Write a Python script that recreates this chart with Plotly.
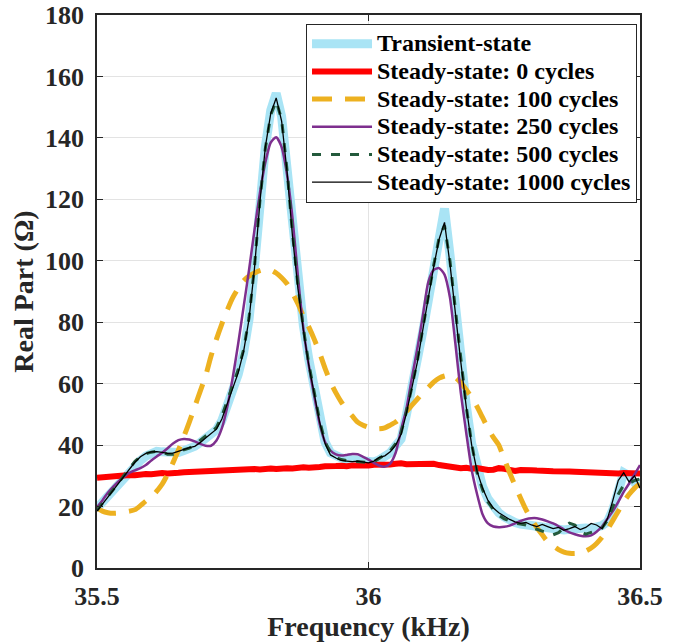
import plotly.graph_objects as go

# Frequency sweep (kHz), 0.01 kHz step
freq = [round(35.5 + 0.01 * i, 2) for i in range(101)]

# Real part of impedance (Ohm) for each simulation case
transient = [
    19.5, 21.5, 23.5, 25.5, 27.5, 29.8, 31.5, 33.3, 35.0, 36.4,
    37.5, 38.0, 37.8, 37.5, 37.4, 37.6, 38.2, 38.8, 39.6, 40.8,
    42.0, 43.5, 45.0, 48.0, 53.0, 57.0, 63.0, 70.0, 81.0, 98.0,
    120.0, 137.0, 149.0, 154.5, 147.0, 131.0, 109.0, 93.0, 79.0, 68.0,
    58.0, 49.0, 41.0, 37.5, 36.4, 35.8, 35.4, 35.2, 35.0, 34.8,
    34.6, 34.5, 35.2, 36.0, 37.5, 39.8, 42.0, 50.0, 58.0, 66.0,
    77.0, 87.0, 98.0, 108.0, 117.0, 102.0, 84.0, 68.0, 53.0, 40.5,
    32.0, 26.5, 22.5, 19.8, 18.0, 16.6, 15.5, 14.8, 14.3, 14.0,
    13.6, 13.2, 12.9, 12.7, 12.6, 12.4, 12.4, 12.6, 12.9, 13.0,
    13.0, 12.9, 13.0, 13.8, 15.0, 19.0, 25.0, 31.0, 30.0, 27.8,
    27.6,
]

steady_0 = [
    29.4, 29.6, 29.7, 29.9, 29.9, 30.1, 30.3, 30.2, 30.5, 30.6,
    30.5, 30.8, 30.9, 30.8, 31.1, 31.0, 31.2, 31.3, 31.2, 31.5,
    31.6, 31.4, 31.7, 31.8, 31.7, 31.9, 32.0, 31.9, 32.1, 32.2,
    32.1, 32.3, 32.4, 32.2, 32.6, 32.5, 32.4, 32.7, 32.8, 32.6,
    33.0, 32.9, 33.1, 33.0, 33.2, 33.3, 33.1, 33.4, 33.3, 33.5,
    33.4, 33.6, 33.5, 33.8, 33.7, 33.9, 34.1, 33.8, 33.9, 34.0,
    33.8, 33.9, 33.9, 33.5, 33.2, 33.0, 32.7, 32.5, 32.6, 32.3,
    32.5, 32.1, 31.9, 32.0, 32.5, 32.3, 32.0, 31.6, 31.9, 32.0,
    31.8, 31.7, 31.8, 31.6, 31.5, 31.6, 31.4, 31.4, 31.3, 31.2,
    31.3, 31.1, 31.0, 30.9, 31.1, 31.0, 30.8, 30.9, 30.8, 30.7,
    30.8,
]

steady_100 = [
    19.5, 18.5, 18.0, 17.8, 17.9, 18.2, 18.5, 19.0, 20.3, 21.8,
    23.0, 25.0, 27.3, 30.5, 34.3, 38.4, 42.8, 47.5, 52.5, 57.5,
    62.5, 69.0, 74.5, 79.5, 84.0, 88.0, 91.0, 93.5, 95.0, 96.0,
    96.8, 97.2, 97.0, 96.0, 94.5, 92.5, 89.5, 86.0, 82.0, 78.5,
    74.5, 70.0, 65.0, 60.5, 57.0, 54.0, 51.5, 49.5, 47.5, 46.5,
    45.8, 45.4, 45.3, 45.6, 46.5, 47.5, 49.0, 51.0, 53.0, 55.0,
    57.0, 58.7, 60.5, 61.8, 62.5, 62.8, 62.0, 60.3, 58.0, 55.5,
    52.5, 49.0, 45.5, 42.5, 40.0, 35.5, 31.0, 26.8, 22.8, 19.0,
    15.8, 13.2, 10.8, 8.5, 7.2, 6.0, 5.2, 4.8, 4.7, 5.0,
    5.5, 6.5, 8.0, 10.0, 12.5, 15.5, 18.5, 21.5, 24.0, 26.0,
    27.6,
]

steady_250 = [
    19.8, 22.0, 24.5, 26.5, 28.3, 29.7, 31.0, 31.8, 32.5, 33.5,
    35.0, 36.3, 37.5, 39.0, 40.5, 41.6, 42.0, 41.8, 41.2, 40.4,
    39.8, 39.8, 41.5, 45.5, 52.5, 62.0, 73.0, 85.0, 97.0, 110.0,
    122.0, 132.0, 138.5, 140.2, 137.0, 128.0, 114.0, 95.0, 78.0, 66.0,
    56.0, 47.0, 41.0, 38.2, 37.0, 36.6, 36.8, 37.1, 37.0, 36.2,
    35.3, 34.2, 33.3, 33.0, 34.0, 37.5, 45.0, 52.0, 62.0, 71.5,
    82.0, 93.0, 97.0, 97.6, 95.5, 88.0, 73.0, 57.0, 44.0, 32.0,
    24.0, 17.5, 14.5, 13.5, 13.3, 13.4, 13.8, 14.5, 15.3, 15.9,
    16.2, 16.2, 15.8, 15.2, 14.5, 13.6, 12.5, 11.6, 11.0, 10.5,
    10.3, 10.6, 11.8, 13.5, 16.0, 18.5, 21.5, 24.8, 27.5, 30.5,
    33.5,
]

steady_500 = [
    18.8, 21.0, 23.2, 25.6, 27.8, 30.2, 32.5, 34.7, 36.3, 37.2,
    37.7, 38.0, 37.8, 37.0, 37.0, 37.8, 38.5, 39.0, 40.0, 41.5,
    43.0, 44.0, 45.8, 49.5, 54.5, 59.0, 64.5, 71.0, 81.5, 98.0,
    119.5, 136.5, 147.5, 152.0, 146.0, 129.5, 109.0, 92.0, 78.0, 66.5,
    57.0, 48.0, 41.0, 37.5, 36.0, 35.3, 35.0, 34.8, 34.6, 34.5,
    34.3, 34.6, 35.6, 36.8, 38.2, 40.5, 44.0, 51.0, 59.0, 67.5,
    78.0, 88.5, 98.5, 107.5, 111.5, 100.0, 83.5, 67.5, 52.5, 40.5,
    31.0, 25.5, 21.5, 19.0, 17.2, 16.0, 15.2, 14.6, 14.3, 14.0,
    13.2, 12.6, 12.0, 11.2, 10.8, 11.5, 13.2, 14.6, 14.0, 12.0,
    11.0, 11.5, 12.2, 13.0, 15.5, 20.0, 24.0, 27.0, 27.5, 28.5,
    29.0,
]

steady_1000 = [
    18.5, 20.8, 23.0, 25.3, 27.6, 30.0, 32.2, 34.5, 36.2, 37.3,
    37.8, 37.9, 37.6, 37.3, 37.4, 38.0, 38.8, 39.2, 39.6, 40.8,
    42.3, 43.8, 45.2, 48.5, 53.5, 58.0, 63.5, 70.5, 81.0, 97.5,
    119.0, 137.0, 148.0, 153.0, 145.5, 129.0, 108.0, 91.0, 77.5, 66.0,
    56.5, 47.5, 40.5, 36.8, 35.8, 35.0, 34.8, 34.6, 34.8, 34.5,
    34.2, 34.8, 36.0, 36.5, 37.8, 40.0, 43.5, 50.5, 58.5, 67.0,
    77.5, 88.0, 98.0, 107.0, 112.5, 99.0, 82.5, 67.0, 52.5, 40.0,
    31.5, 26.0, 22.0, 19.5, 18.0, 16.8, 15.8, 15.0, 14.5, 14.8,
    14.0, 13.5, 14.2, 13.5, 12.8, 13.2, 12.3, 12.8, 13.5, 12.5,
    13.2, 14.5, 14.0, 12.8, 16.0, 22.0, 28.5, 31.0, 28.0, 30.0,
    26.0,
]

series_names = [
    "Transient-state",
    "Steady-state: 0 cycles",
    "Steady-state: 100 cycles",
    "Steady-state: 250 cycles",
    "Steady-state: 500 cycles",
    "Steady-state: 1000 cycles",
]

x_ticks = [35.5, 36, 36.5]
x_tick_labels = ["35.5", "36", "36.5"]
y_ticks = [0, 20, 40, 60, 80, 100, 120, 140, 160, 180]

FONT = "Liberation Serif, Times New Roman, serif"
INK = "#262626"

styles = [
    dict(color="#A9E4F5", width=9),
    dict(color="#FF0000", width=6),
    dict(color="#EDB120", width=5, dash="20px,13px"),
    dict(color="#7E2F8E", width=2.5),
    dict(color="#235A3C", width=3, dash="9px,10px"),
    dict(color="#000000", width=1.3),
]
shapes_ = ["linear", "linear", "spline", "spline", "linear", "linear"]
values = [transient, steady_0, steady_100, steady_250, steady_500, steady_1000]

fig = go.Figure()
for name, ys, st, shp in zip(series_names, values, styles, shapes_):
    line = dict(st)
    line["shape"] = shp
    if shp == "spline":
        line["smoothing"] = 0.6
    fig.add_trace(go.Scatter(
        x=freq, y=ys, mode="lines", line=line,
        name=f'<span style="font-size:24px">{name}</span>',
    ))

axis_common = dict(
    automargin=False,
    showline=True, linecolor=INK, linewidth=1.5, mirror="ticks",
    ticks="inside", ticklen=6, tickwidth=1, tickcolor=INK,
    showgrid=True, gridcolor="#E3E3E3", gridwidth=1,
    zeroline=False,
    tickfont=dict(family=FONT, size=26, color=INK, weight="bold"),
)

fig.update_xaxes(
    range=[35.5, 36.5], tickvals=x_ticks, ticktext=x_tick_labels,
    ticklabelstandoff=4,
    title=dict(text="Frequency (kHz)", standoff=6,
               font=dict(family=FONT, size=28, color=INK, weight="bold")),
    **axis_common,
)
fig.update_yaxes(
    range=[0, 180], tickvals=y_ticks,
    ticklabelstandoff=6,
    title=dict(text="Real Part (Ω)", standoff=3,
               font=dict(family=FONT, size=28, color=INK, weight="bold")),
    **axis_common,
)

fig.update_layout(
    width=683, height=644,
    margin=dict(l=97, r=43, t=15, b=76),
    paper_bgcolor="white", plot_bgcolor="white",
    font=dict(family=FONT, color=INK),
    legend=dict(
        x=0.9945, y=0.984, xanchor="right", yanchor="top",
        bgcolor="white", bordercolor=INK, borderwidth=1,
        font=dict(family=FONT, size=19, color="black", weight="bold"),
        itemwidth=60, tracegroupgap=0,
    ),
    showlegend=True,
)

fig.write_html("out.html")
